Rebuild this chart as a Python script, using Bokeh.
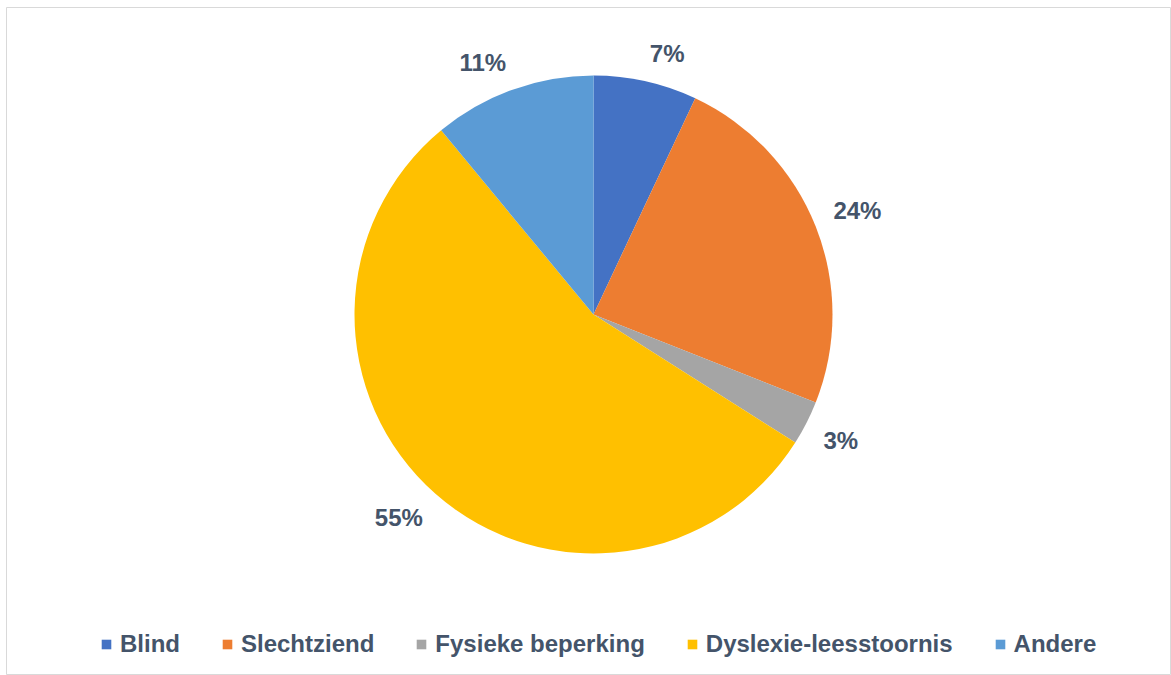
import math
from bokeh.plotting import figure
from bokeh.models import ColumnDataSource, Range1d, Legend, LegendItem
from bokeh.core.properties import value
from bokeh.embed import file_html
from bokeh.resources import INLINE

categories = ["Blind", "Slechtziend", "Fysieke beperking", "Dyslexie-leesstoornis", "Andere"]
values = [7, 24, 3, 55, 11]
labels = ["7%", "24%", "3%", "55%", "11%"]
colors = ["#4472C4", "#ED7D31", "#A5A5A5", "#FFC000", "#5B9BD5"]

W, H = 1171, 675
BL, BT = 6, 7
FW, FH = W - BL, H - BT
CX, CY, R = 593 - BL, H - 314, 239
LR = 258
TEXT_COLOR = "#44546A"
FONT = "Liberation Sans"

total = float(sum(values))
starts, ends, lx, ly, align = [], [], [], [], []
cum = 0
for v in values:
    a0 = cum / total
    cum += v
    a1 = cum / total
    starts.append(math.pi / 2 - 2 * math.pi * a1)
    ends.append(math.pi / 2 - 2 * math.pi * a0)
    th = math.pi * (a0 + a1)
    s, c = math.sin(th), math.cos(th)
    lx.append(CX + LR * s)
    ly.append(CY + LR * c + (9 if c > 0 else -9))
    align.append("left" if s >= 0 else "right")

src = ColumnDataSource(dict(cat=categories, val=values, label=labels, color=colors,
                            start=starts, end=ends, lx=lx, ly=ly, align=align))

p = figure(width=W, height=H, x_range=Range1d(0, FW), y_range=Range1d(0, FH),
           output_backend="svg", toolbar_location=None,
           min_border_left=BL, min_border_top=BT, min_border_right=0, min_border_bottom=0,
           x_axis_type=None, y_axis_type=None)
p.grid.visible = False
p.outline_line_color = "#D9D9D9"
p.outline_line_width = 1
p.background_fill_color = "white"
p.border_fill_color = "white"

wr = p.wedge(x=CX, y=CY, radius=R, start_angle="start", end_angle="end",
             fill_color="color", line_color=None, source=src)

p.text(x="lx", y="ly", text="label", text_align="align", text_baseline="middle",
       text_font=value(FONT), text_font_style="bold", text_font_size="24px",
       text_color=TEXT_COLOR, source=src)

items = [LegendItem(label=cat, renderers=[wr], index=i) for i, cat in enumerate(categories)]
legend = Legend(items=items, orientation="horizontal", location=(100 - BL, 17),
                glyph_width=12, glyph_height=12, label_standoff=8, spacing=41,
                padding=0, margin=0, border_line_color=None, background_fill_alpha=0,
                label_text_font=FONT, label_text_font_style="bold",
                label_text_font_size="24px", label_text_color=TEXT_COLOR,
                label_height=24)
p.add_layout(legend, "center")

open("out.html", "w").write(file_html(p, INLINE))
